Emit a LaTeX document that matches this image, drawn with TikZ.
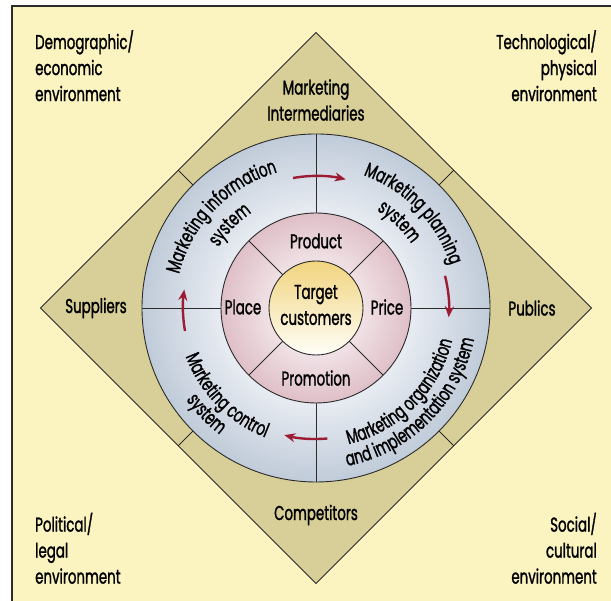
\documentclass[tikz,border=0pt]{standalone}
\usepackage{fontspec}
\setmainfont{Poppins}[FakeStretch=0.67, FakeBold=1.3]
\usetikzlibrary{arrows.meta,decorations.text,calc}

\definecolor{paper}{HTML}{FBF4C1}
\definecolor{khaki}{HTML}{D7CF97}
\definecolor{rule}{HTML}{2B2B2B}
\definecolor{blueIn}{HTML}{E8ECF2}
\definecolor{blueOut}{HTML}{C0CBD9}
\definecolor{pinkIn}{HTML}{F0E2E6}
\definecolor{pinkOut}{HTML}{DFBFC8}
\definecolor{goldTop}{HTML}{F1D47E}
\definecolor{goldMid}{HTML}{FCF3D6}
\definecolor{goldBot}{HTML}{FFFEF8}
\definecolor{arrowred}{HTML}{9C1C33}

% shadings for the two rings (25bp = rim of the shaded circle)
\pgfdeclareradialshading{bluering}{\pgfpointorigin}{color(0bp)=(blueIn); color(13.6bp)=(blueIn); color(25bp)=(blueOut); color(50bp)=(blueOut)}
\pgfdeclareradialshading{pinkring}{\pgfpointorigin}{color(0bp)=(pinkIn); color(12.4bp)=(pinkIn); color(25bp)=(pinkOut); color(50bp)=(pinkOut)}

\newcommand\ringfont{\fontsize{20}{22}\selectfont}

\begin{document}
\begin{tikzpicture}[x=1pt,y=1pt,
  lab/.style={font=\fontsize{20}{26}\selectfont, inner sep=0pt, text=black},
  rim/.style={draw=rule, line width=0.9pt},
  cycle arrow/.style={draw=arrowred, line width=2.4pt, -{Stealth[length=11pt,width=9pt]}},
  arc text/.style={decorate, decoration={text along path, text align=center, text={|\ringfont|#1}}}
]
\useasboundingbox (0,0) rectangle (611,601);
\fill[white] (0,0) rectangle (611,601);

% framed paper background
\fill[paper] (12,-2) rectangle (613,595);
\draw[rule, line width=1.2pt] (12,-2) -- (12,595) -- (613,595);

\coordinate (C) at (316,293);
\coordinate (dT) at (316,568.5);
\coordinate (dR) at (591.5,293);
\coordinate (dB) at (316,17.5);
\coordinate (dL) at (40.5,293);

% environment diamond
\filldraw[fill=khaki, rim] (dT) -- (dR) -- (dB) -- (dL) -- cycle;

% marketing systems ring
\shade[shading=bluering] (C) circle[radius=174];
\draw[rim] (C) circle[radius=174];
\foreach \a in {45,135,225,315}
  \draw[rim] ($(C)+(\a:174)$) -- ($(C)+(\a:194.8)$);
\foreach \a in {0,90,180,270}
  \draw[rim] ($(C)+(\a:95)$) -- ($(C)+(\a:174)$);

% marketing mix ring
\shade[shading=pinkring] (C) circle[radius=95];
\draw[rim] (C) circle[radius=95];
\foreach \a in {45,135,225,315}
  \draw[rim] ($(C)+(\a:47)$) -- ($(C)+(\a:95)$);

% target customers core
\shade[top color=goldTop, middle color=goldMid, bottom color=goldBot] (C) circle[radius=47];
\draw[rim] (C) circle[radius=47];

% corner labels
\node[lab, anchor=north west, align=left] (demo) at (35,571) {Demographic/\\economic\\environment};
\node[lab, anchor=north east, align=right] (tech) at (597,571) {Technological/\\physical\\environment};
\node[lab, anchor=south west, align=left] (pol) at (35,17) {Political/\\legal\\environment};
\node[lab, anchor=south east, align=right] (soc) at (597,17) {Social/\\cultural\\environment};

% diamond labels
\node[lab, align=center] (mi) at (316,501) {Marketing\\Intermediaries};
\node[lab] (sup) at (96,293) {Suppliers};
\node[lab] (pub) at (532,293) {Publics};
\node[lab] (comp) at (316,86) {Competitors};

% marketing mix labels
\node[lab] (prod) at (316,360) {Product};
\node[lab] (price) at (387,294) {Price};
\node[lab] (promo) at (316,223) {Promotion};
\node[lab] (place) at (243,294) {Place};
\node[lab, align=center] (tc) at (316,296) {Target\\customers};

% curved system labels
\path[arc text={Marketing information}] ($(C)+(181:141)$) arc[start angle=181, end angle=91, radius=141];
\path[arc text={system}] ($(C)+(181:115)$) arc[start angle=181, end angle=91, radius=115];
\path[arc text={Marketing planning}] ($(C)+(89:141)$) arc[start angle=89, end angle=-1, radius=141];
\path[arc text={system}] ($(C)+(91:115)$) arc[start angle=91, end angle=1, radius=115];
\path[arc text={Marketing organization}] ($(C)+(-90:140)$) arc[start angle=-90, end angle=0, radius=140];
\path[arc text={and implementation system}] ($(C)+(-90:161)$) arc[start angle=-90, end angle=0, radius=161];
\path[arc text={Marketing control}] ($(C)+(180:139)$) arc[start angle=180, end angle=269, radius=139];
\path[arc text={system}] ($(C)+(180:159)$) arc[start angle=180, end angle=268, radius=159];

% clockwise flow arrows
\draw[cycle arrow] ($(C)+(100:132)$) arc[start angle=100, end angle=77, radius=132];
\draw[cycle arrow] ($(C)+(14:133)$) arc[start angle=14, end angle=-4, radius=133];
\draw[cycle arrow] ($(C)+(-85:131)$) arc[start angle=-85, end angle=-104, radius=131];
\draw[cycle arrow] ($(C)+(190:133)$) arc[start angle=190, end angle=172, radius=133];
\end{tikzpicture}
\end{document}
